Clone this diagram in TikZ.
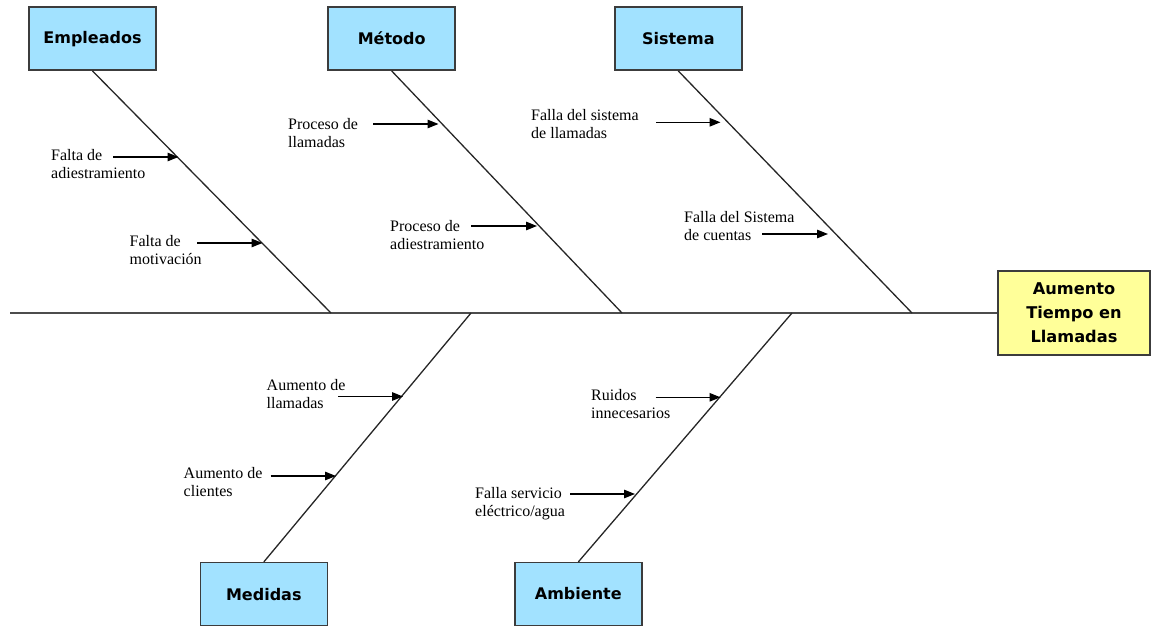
\documentclass[tikz,border=0pt]{standalone}
\usepackage{fontspec}
\setmainfont{Liberation Serif}
\newfontfamily\boxfont{DejaVu Sans}
\usetikzlibrary{arrows.meta}
\definecolor{boxblue}{RGB}{162,226,255}
\definecolor{boxyellow}{RGB}{255,255,153}
\definecolor{edge}{RGB}{60,60,60}
\tikzset{
  cat/.style={draw=edge, line width=1.5pt, fill=boxblue, minimum width=127pt, minimum height=63pt, inner sep=0pt, font=\boxfont\bfseries\fontsize{16}{18}\selectfont},
  effect/.style={draw=edge, line width=1.5pt, fill=boxyellow, minimum width=152pt, minimum height=84pt, inner sep=0pt, align=center, font=\boxfont\bfseries\fontsize{16.2}{24}\selectfont},
  bone/.style={draw=black!85, line width=1.3pt},
  spine/.style={draw=black!70, line width=1.8pt},
  cause/.style={anchor=north west, inner sep=0pt, align=left, font=\fontsize{16}{18}\selectfont},
  causearrow/.style={draw=black, line width=1.2pt, -{Triangle[length=11pt,width=8.5pt]}}
}
\begin{document}
\begin{tikzpicture}[x=1pt,y=-1pt]
\useasboundingbox (0,0) rectangle (1151,628);
% boxes
\node[cat] (emp) at (92.5,38.7) {Empleados};
\node[cat] (met) at (391.7,38.7) {\raisebox{-2pt}{Método}};
\node[cat] (sis) at (678.3,38.7) {Sistema};
\node[cat] (med) at (263.8,594.2) {Medidas};
\node[cat] (amb) at (578.3,594.2) {\raisebox{2pt}{Ambiente}};
\node[effect] (eff) at (1074,313) {Aumento\\Tiempo en\\Llamadas};
% spine
\coordinate (s0) at (10,313);
\draw[spine] (s0) -- (eff.west);
% bone ends on the spine
\coordinate (be) at (331,313);
\coordinate (bm) at (622,313);
\coordinate (bs) at (912,313);
\coordinate (bd) at (471,313);
\coordinate (ba) at (792,313);
\draw[bone] (emp.south) -- (be);
\draw[bone] (met.south) -- (bm);
\draw[bone] (sis.south) -- (bs);
\draw[bone] (med.north) -- (bd);
\draw[bone] (amb.north) -- (ba);
% cause labels
\node[cause] (c1) at (51,149) {Falta de\\adiestramiento};
\node[cause] (c2) at (129.5,235) {Falta de\\motivación};
\node[cause] (c3) at (288,118) {Proceso de\\llamadas};
\node[cause] (c4) at (390,220) {Proceso de\\adiestramiento};
\node[cause] (c5) at (531,109) {Falla del sistema\\de llamadas};
\node[cause] (c6) at (684,210.7) {Falla del Sistema\\de cuentas};
\node[cause] (c7) at (266.5,379) {Aumento de\\llamadas};
\node[cause] (c8) at (183.5,467) {Aumento de\\clientes};
\node[cause] (c9) at (591,389) {Ruidos\\innecesarios};
\node[cause] (c10) at (475,487) {Falla servicio\\eléctrico/agua};
% arrows
\coordinate (a1s) at (113,157); \coordinate (a1e) at (178.5,157);
\coordinate (a2s) at (197,243); \coordinate (a2e) at (262.5,243);
\coordinate (a3s) at (373,124); \coordinate (a3e) at (438.5,124);
\coordinate (a4s) at (471,226); \coordinate (a4e) at (537,226);
\coordinate (a5s) at (656,122.3); \coordinate (a5e) at (720.5,122.3);
\coordinate (a6s) at (762,234); \coordinate (a6e) at (828,234);
\coordinate (a7s) at (338,396.5); \coordinate (a7e) at (403,396.5);
\coordinate (a8s) at (270.7,476); \coordinate (a8e) at (336,476);
\coordinate (a9s) at (655.5,397.3); \coordinate (a9e) at (720.5,397.3);
\coordinate (a10s) at (570,494); \coordinate (a10e) at (635,494);
\foreach \i in {1,...,10} {\draw[causearrow] (a\i s) -- (a\i e);}
\end{tikzpicture}
\end{document}
